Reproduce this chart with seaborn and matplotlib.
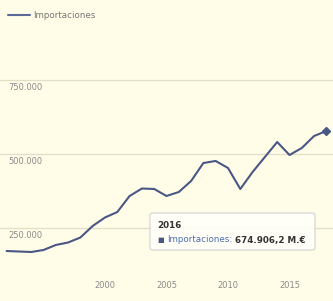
import matplotlib
matplotlib.use("Agg")
import matplotlib.pyplot as plt
import seaborn as sns
import pandas as pd
from matplotlib.patches import FancyBboxPatch
import matplotlib.transforms as mtransforms

# ---- data ----
years = list(range(1992, 2019))
imports = [172300, 170600, 168900, 175700, 192600, 201000, 217900, 256800,
           285500, 304000, 358100, 383400, 381800, 358100, 371600, 408800,
           469600, 476400, 452700, 381800, 439200, 489900, 540500, 496600,
           520300, 560800, 577700]
series_name = "Importaciones"
y_ticks = [250000, 500000, 750000]
y_tick_labels = ["250.000", "500.000", "750.000"]
x_ticks = [2000, 2005, 2010, 2015]
x_tick_labels = ["2000", "2005", "2010", "2015"]
tip_title = "2016"
tip_label = "Importaciones:"
tip_value = "674.906,2 M.€"

df = pd.DataFrame({"year": years, "value": imports})

BG = "#fffde8"
LINE = "#4a5785"
W, H = 333, 301

sns.set_theme(style="white")
plt.rcParams['font.family'] = ['DejaVu Sans']

fig = plt.figure(figsize=(W / 100, H / 100), dpi=100, facecolor=BG)
ax = fig.add_axes([0, (H - 270) / H, 1, (270 - 30) / H])
ax.set_facecolor(BG)

sns.lineplot(data=df, x="year", y="value", ax=ax, color=LINE, linewidth=1.5)
ax.plot(df["year"].iloc[-1], df["value"].iloc[-1], marker="D", markersize=4.5,
        color=LINE, zorder=5)

# scales
def year_at(px):
    return 2000 + (px - 105) / 12.3

def val_at(py):
    return 250000 + (228 - py) * 250000 / 74

ax.set_xlim(year_at(0), year_at(W))
ax.set_ylim(val_at(270), val_at(30))

for s in ax.spines.values():
    s.set_visible(False)

ax.set_yticks(y_ticks)
ax.set_yticklabels([])
ax.tick_params(axis="y", length=0)
ax.yaxis.grid(True, color="#e4dfc8", linewidth=1)
ax.xaxis.grid(False)
ax.set_ylabel("")
ax.set_xlabel("")

trans = mtransforms.blended_transform_factory(ax.transAxes, ax.transData)
for v, lab in zip(y_ticks, y_tick_labels):
    ax.text(8 / W, v, lab, transform=trans, ha="left", va="top",
            fontsize=6, color="#8a8a8a",
            transform_rotates_text=False).set_y(v - 9000)

ax.set_xticks(x_ticks)
ax.set_xticklabels(x_tick_labels, fontsize=6, color="#8a8a8a")
ax.tick_params(axis="x", length=0, pad=8)

# legend
fig.add_artist(plt.Line2D([8 / W, 30 / W], [1 - 15 / H, 1 - 15 / H],
                          color="#5b6a9b", linewidth=1.5, transform=fig.transFigure))
fig.text(33 / W, 1 - 15 / H, series_name, fontsize=6.3, color="#777777",
         va="center", ha="left")

# tooltip
box = FancyBboxPatch((150 / W, 1 - 250 / H), (315 - 150) / W, (250 - 213) / H,
                     boxstyle="round,pad=0,rounding_size=0.008",
                     transform=fig.transFigure, facecolor="#fffff8",
                     edgecolor="#cfcfcf", linewidth=0.8, alpha=0.95, zorder=10)
fig.add_artist(box)
fig.text(157 / W, 1 - 225 / H, tip_title, fontsize=6.3, fontweight="bold",
         color="#333333", va="center", ha="left", zorder=11)
t1 = fig.text(157 / W, 1 - 240 / H, "■", fontsize=5, color=LINE,
              va="center", ha="left", zorder=11)
fig.canvas.draw()
r = fig.canvas.get_renderer()
bb = t1.get_window_extent(r)
t2 = fig.text((bb.x1 + 3) / W, 1 - 240 / H, tip_label, fontsize=6.3,
              color="#4f6fae", va="center", ha="left", zorder=11)
bb2 = t2.get_window_extent(r)
fig.text((bb2.x1 + 3) / W, 1 - 240 / H, tip_value, fontsize=6.3,
         fontweight="bold", color="#333333", va="center", ha="left", zorder=11)

fig.savefig("out.png", dpi=100, facecolor=BG)
